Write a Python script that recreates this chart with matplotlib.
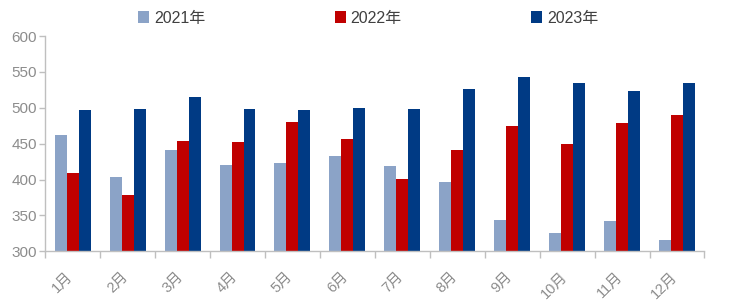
import numpy as np
import matplotlib
matplotlib.use('Agg')
import matplotlib.pyplot as plt
import matplotlib.transforms as mtransforms

plt.rcParams['font.family'] = ['Liberation Sans', 'Noto Sans CJK SC']

months = ['1月', '2月', '3月', '4月', '5月', '6月', '7月', '8月', '9月', '10月', '11月', '12月']
series_names = ['2021年', '2022年', '2023年']
v2021 = [462, 404, 441, 420, 423, 433, 419, 397, 344, 326, 342, 316]
v2022 = [409, 379, 454, 452, 480, 457, 401, 441, 474, 450, 479, 490]
v2023 = [497, 498, 515, 498, 497, 500, 498, 526, 543, 534, 524, 535]
colors = ['#8BA3C7', '#C00000', '#003A84']

fig = plt.figure(figsize=(7.3, 3.06), dpi=100)
ax = fig.add_axes([0.062, 0.179, 0.903, 0.703])

x = np.arange(len(months))
w = 0.218
for i, vals in enumerate([v2021, v2022, v2023]):
    ax.bar(x + (i - 1) * w, np.array(vals) - 300, width=w, bottom=300,
           color=colors[i], label=series_names[i], zorder=2)

grey = '#BFBFBF'
ax.set_ylim(300, 600)
ax.set_xlim(-0.5, len(months) - 0.5)
ax.set_yticks(np.arange(300, 601, 50))
ax.tick_params(axis='y', colors=grey, labelcolor='#8C8C8C', labelsize=11,
               length=4, width=1, pad=2)

ax.set_xticks(np.arange(-0.5, len(months), 1.0))
ax.set_xticklabels([])
ax.set_xticks(x, minor=True)
ax.set_xticklabels(months, minor=True, rotation=45, ha='right',
                   rotation_mode='anchor', fontsize=10.5, color='#8C8C8C')
ax.tick_params(axis='x', which='major', colors=grey, length=5, width=1)
ax.tick_params(axis='x', which='minor', length=0, pad=13)
shift = mtransforms.ScaledTranslation(-7 / 100, 0, fig.dpi_scale_trans)
for lab in ax.get_xticklabels(minor=True):
    lab.set_transform(lab.get_transform() + shift)

for s in ['top', 'right']:
    ax.spines[s].set_visible(False)
for s in ['left', 'bottom']:
    ax.spines[s].set_color(grey)
    ax.spines[s].set_linewidth(1)

fig.legend(loc='center left', bbox_to_anchor=(0.189, 0.941), ncol=3,
           frameon=False, fontsize=11.5, handlelength=0.7, handleheight=0.7,
           handletextpad=0.3, columnspacing=8.1, labelcolor='#404040',
           borderaxespad=0, borderpad=0)

fig.savefig('out.png', dpi=100)
